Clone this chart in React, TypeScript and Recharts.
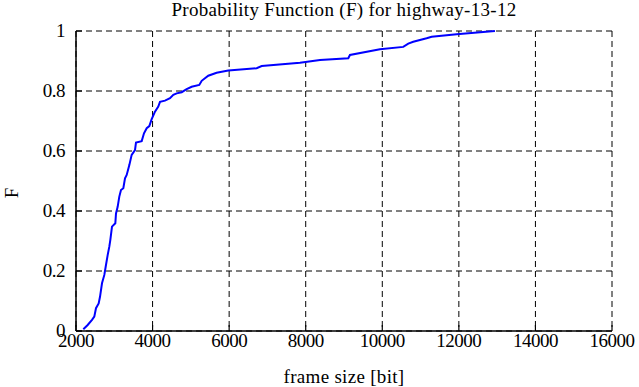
import React from 'react';
import { LineChart, Line, XAxis, YAxis, CartesianGrid } from 'recharts';

const frameSize = [
  2191, 2305, 2418, 2478, 2522, 2592, 2627, 2679, 2740, 2783, 2827, 2870, 2896, 2940,
  3027, 3045, 3088, 3131, 3175, 3236, 3280, 3324, 3393, 3454, 3541, 3567, 3716, 3776,
  3847, 3915, 3977, 4063, 4149, 4194, 4324, 4455, 4542, 4629, 4760, 4890, 5021, 5220,
  5283, 5455, 5673, 5978, 6719, 6850, 7850, 8373, 9112, 9156, 9939, 10548, 10679,
  10809, 11158, 11289, 11942, 12942,
];
const probability = [
  0.006, 0.02, 0.037, 0.048, 0.076, 0.092, 0.114, 0.159, 0.187, 0.22, 0.253, 0.281, 0.303, 0.348,
  0.359, 0.392, 0.414, 0.448, 0.47, 0.476, 0.509, 0.52, 0.553, 0.587, 0.603, 0.628, 0.633, 0.659,
  0.676, 0.683, 0.706, 0.731, 0.748, 0.764, 0.768, 0.776, 0.787, 0.792, 0.796, 0.806, 0.814, 0.82,
  0.834, 0.851, 0.861, 0.868, 0.876, 0.883, 0.894, 0.903, 0.909, 0.92, 0.939, 0.947, 0.958,
  0.964, 0.976, 0.981, 0.989, 1.0,
];
const xTicks = [2000, 4000, 6000, 8000, 10000, 12000, 14000, 16000];
const yTicks = [0, 0.2, 0.4, 0.6, 0.8, 1];

const data = frameSize.map((x, i) => ({ x, f: probability[i] }));

const font = '"Liberation Serif", "Times New Roman", serif';
const fs = 19;
const tickLen = 6;
const xGap = 4;
const yGap = 11;

// gnuplot-style ticks point into the plot
const BottomTick = ({ x, y, payload }: any) => (
  <g>
    <line x1={x} x2={x} y1={y - xGap} y2={y - xGap - tickLen} stroke="#000" strokeWidth={1.2} />
    <text x={x} y={y} dy="0.63em" textAnchor="middle" fill="#000" fontSize={fs} fontFamily={font} letterSpacing={-0.5}>
      {payload.value}
    </text>
  </g>
);
const TopTick = ({ x, y }: any) => (
  <line x1={x} x2={x} y1={y} y2={y + tickLen} stroke="#000" strokeWidth={1.2} />
);
const LeftTick = ({ x, y, payload }: any) => (
  <g>
    <line x1={x + yGap} x2={x + yGap + tickLen} y1={y} y2={y} stroke="#000" strokeWidth={1.2} />
    <text x={x} y={y} dy="0.33em" textAnchor="end" fill="#000" fontSize={fs} fontFamily={font} letterSpacing={-0.5}>
      {payload.value}
    </text>
  </g>
);
const RightTick = ({ x, y }: any) => (
  <line x1={x} x2={x - tickLen} y1={y} y2={y} stroke="#000" strokeWidth={1.2} />
);

const yLabel = () => (
  <text x={18} y={193} transform="rotate(-90 18 193)" textAnchor="middle" fill="#000" fontSize={fs} fontFamily={font}>
    F
  </text>
);

export default function App() {
  return (
    <div style={{ position: 'absolute', left: 0, top: 0, width: 639, height: 387, background: '#fff' }}>
      <div style={{ position: 'absolute', left: 76, width: 536, top: 0, textAlign: 'center', fontSize: fs, lineHeight: '19px', letterSpacing: 0.3, color: '#000', fontFamily: font }}>
        Probability Function (F) for highway-13-12
      </div>
      <LineChart width={639} height={387} data={data} margin={{ top: 31, right: 27, bottom: 0, left: 0 }}>
        <CartesianGrid stroke="#000" strokeDasharray="6 4" strokeWidth={1} />
        <XAxis
          dataKey="x"
          type="number"
          domain={[2000, 16000]}
          ticks={xTicks}
          height={56}
          tickLine={false}
          tickSize={0}
          tickMargin={xGap}
          axisLine={{ stroke: '#000', strokeWidth: 1.5 }}
          tick={<BottomTick />}
          interval={0}
          label={{ value: 'frame size [bit]', position: 'insideBottom', offset: 4, fill: '#000', fontSize: fs, fontFamily: font, letterSpacing: 0.3 }}
        />
        <XAxis xAxisId="top" orientation="top" dataKey="x" type="number" domain={[2000, 16000]} ticks={xTicks} interval={0} tick={<TopTick />} tickLine={false} tickSize={0} tickMargin={0} axisLine={{ stroke: '#000', strokeWidth: 1.5 }} height={0} />
        <YAxis
          type="number"
          domain={[0, 1]}
          ticks={yTicks}
          width={76}
          tickLine={false}
          tickSize={0}
          tickMargin={yGap}
          axisLine={{ stroke: '#000', strokeWidth: 1.5 }}
          tick={<LeftTick />}
          interval={0}
          label={yLabel}
        />
        <YAxis yAxisId="right" orientation="right" type="number" domain={[0, 1]} ticks={yTicks} interval={0} tick={<RightTick />} tickLine={false} tickSize={0} tickMargin={0} axisLine={{ stroke: '#000', strokeWidth: 1.5 }} width={0} />
        <Line
          type="linear"
          dataKey="f"
          stroke="#0000ff"
          strokeWidth={2}
          dot={false}
          isAnimationActive={false}
        />
      </LineChart>
    </div>
  );
}
